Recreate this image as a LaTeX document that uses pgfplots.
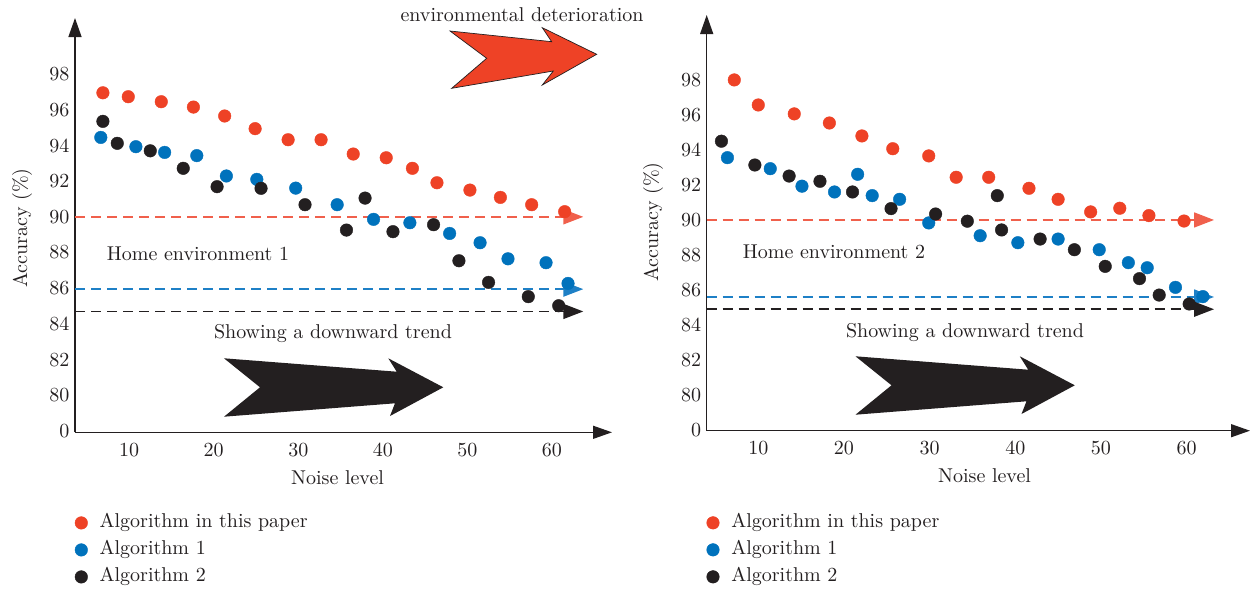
\documentclass[border=0pt]{standalone}
\usepackage{fontspec}
\setmainfont{lmroman10-regular.otf}
\usepackage{pgfplots}
\pgfplotsset{compat=1.18}
\usepackage{pgfplotstable}
\usetikzlibrary{arrows.meta}
\definecolor{cred}{RGB}{238,66,38}
\definecolor{cblue}{RGB}{0,114,188}
\definecolor{cblack}{RGB}{35,31,32}
\definecolor{lred}{RGB}{240,96,76}
\definecolor{lblue}{RGB}{30,128,198}

\pgfplotstableread{
x a
6.9 96.95
9.9 96.73
13.8 96.45
17.6 96.15
21.3 95.65
24.9 94.94
28.8 94.32
32.7 94.32
36.5 93.52
40.4 93.31
43.5 92.72
46.4 91.91
50.3 91.50
53.9 91.09
57.6 90.68
61.5 90.29
}\LRed
\pgfplotstableread{
x a
6.65 94.45
10.8 93.93
14.2 93.61
18.0 93.43
21.5 92.29
25.1 92.10
29.7 91.61
34.6 90.68
38.9 89.86
43.2 89.67
47.9 89.07
51.5 88.55
54.8 87.65
59.3 87.43
61.9 86.27
}\LBlue
\pgfplotstableread{
x a
6.9 95.35
8.6 94.12
12.5 93.70
16.4 92.72
20.4 91.69
25.6 91.60
30.8 90.68
35.7 89.26
37.9 91.05
41.2 89.17
46.0 89.56
49.0 87.54
52.5 86.33
57.2 85.53
60.8 85.02
}\LBlack
\pgfplotstableread{
x a
7.2 98.00
10.0 96.57
14.2 96.06
18.3 95.54
22.1 94.80
25.7 94.07
29.9 93.66
33.1 92.44
36.9 92.44
41.6 91.81
45.0 91.18
48.8 90.46
52.2 90.67
55.6 90.25
59.7 89.94
}\RRed
\pgfplotstableread{
x a
6.4 93.56
11.4 92.93
15.1 91.93
18.9 91.60
21.6 92.61
23.3 91.39
26.5 91.18
29.9 89.83
35.9 89.10
40.3 88.70
45.0 88.91
49.8 88.30
53.2 87.56
55.4 87.27
58.7 86.15
61.9 85.62
}\RBlue
\pgfplotstableread{
x a
5.7 94.50
9.6 93.14
13.6 92.51
17.2 92.21
21.0 91.60
25.5 90.65
30.7 90.34
34.4 89.93
37.9 91.39
38.4 89.43
42.9 88.91
46.9 88.30
50.5 87.35
54.5 86.65
56.8 85.71
60.3 85.20
}\RBlack

\pgfplotsset{
  myaxis/.style={
    scale only axis, clip=false,
    axis lines=left,
    axis line style={line width=1.3bp, cblack, -{Triangle[length=19bp,width=13bp]}},
    major tick length=0pt,
    xtick={10,20,30,40,50,60},
    ytick={0,2,4,6,8,10,12,14,16,18,20},
    yticklabels={0,80,82,84,86,88,90,92,94,96,98},
    /pgf/number format/assume math mode=true,
    tick label style={font=\fontsize{20bp}{23bp}\selectfont, text=cblack},
    xticklabel style={yshift=-7bp},
    yticklabel style={xshift=-2bp},
    legend cell align=left,
    legend image code/.code={\draw[##1] plot coordinates {(0bp,0bp)};},
    legend style={draw=none, fill=none, inner sep=0pt, outer sep=0pt,
      row sep=9bp, column sep=12bp, font=\fontsize{20bp}{23bp}\selectfont,
      nodes={text height=14bp, text depth=4bp, inner sep=0pt, text=cblack}},
  },
  pts/.style={only marks, mark=*, mark size=6.3bp, color=#1, mark options={draw=#1, fill=#1}},
  hl/.style={forget plot, line width=1.5bp, color=#1, dash pattern=on 10bp off 6bp,
    -{Triangle[length=20bp,width=15bp]}},
}

\begin{document}
\begin{tikzpicture}[font=\fontsize{20bp}{23bp}\selectfont]
\path[use as bounding box, fill=white] (0,0) rectangle (1252bp,-590bp);

% ---------------- left panel
\begin{axis}[myaxis,
  at={(75bp,-432.3bp)}, anchor=south west,
  width=537bp, height=414.3bp,
  xmin=3.6, xmax=67.1, ymin=-0.07, ymax=23.14,
  legend style={at={(axis description cs:0.0,-0.197)}, anchor=north west},
]
\addplot[hl=lred] coordinates {(3.6,12) (63.7,12)};
\addplot[hl=lblue] coordinates {(3.6,7.95) (63.7,7.95)};
\addplot[hl=cblack] coordinates {(3.6,6.7) (63.7,6.7)};
\addplot[pts=cred] table[x=x, y expr=\thisrow{a}-78] {\LRed};
\addplot[pts=cblue] table[x=x, y expr=\thisrow{a}-78] {\LBlue};
\addplot[pts=cblack] table[x=x, y expr=\thisrow{a}-78] {\LBlack};
\legend{Algorithm in this paper, Algorithm 1, Algorithm 2}
\end{axis}

% ---------------- right panel
\begin{axis}[myaxis,
  at={(706.7bp,-430.7bp)}, anchor=south west,
  width=543.3bp, height=415.7bp,
  xmin=3.98, xmax=67.4, ymin=-0.04, ymax=23.71,
  legend style={at={(axis description cs:0.0,-0.2)}, anchor=north west},
]
\addplot[hl=lred] coordinates {(3.98,12) (63.2,12)};
\addplot[hl=lblue] coordinates {(3.98,7.6) (63.2,7.6)};
\addplot[hl=cblack] coordinates {(3.98,6.9) (63.2,6.9)};
\addplot[pts=cred] table[x=x, y expr=\thisrow{a}-78] {\RRed};
\addplot[pts=cblue] table[x=x, y expr=\thisrow{a}-78] {\RBlue};
\addplot[pts=cblack] table[x=x, y expr=\thisrow{a}-78] {\RBlack};
\legend{Algorithm in this paper, Algorithm 1, Algorithm 2}
\end{axis}

\begin{scope}[x=1bp, y=-1bp]
% big arrows
\filldraw[fill=cred, draw=cblack, line width=0.7bp, line join=miter]
  (450,31) -- (551.7,41.7) -- (542.3,27.7) -- (596.7,54.3) -- (542.3,85)
  -- (553.3,71) -- (451.7,88.3) -- (486.7,58.3) -- cycle;
\fill[cblack] (224,358.3) -- (396.7,371.7) -- (388.3,358.3) -- (443.3,387.3)
  -- (390,416) -- (395,403.3) -- (224,416.7) -- (260,387.3) -- cycle;
\begin{scope}[shift={(631.5,-2)}]
\fill[cblack] (224,358.3) -- (396.7,371.7) -- (388.3,358.3) -- (443.3,387.3)
  -- (390,416) -- (395,403.3) -- (224,416.7) -- (260,387.3) -- cycle;
\end{scope}
% texts
\begin{scope}[every node/.style={text=cblack, inner sep=0pt}]
\node at (522,15) {environmental deterioration};
\node at (198,254) {Home environment 1};
\node at (834,252) {Home environment 2};
\node at (333,334) {Showing a downward trend};
\node at (965,333) {Showing a downward trend};
\node at (337.5,477.5) {Noise level};
\node at (984.5,475.5) {Noise level};
\node[rotate=90] at (22,228) {Accuracy (\%)};
\node[rotate=90] at (653,222) {Accuracy (\%)};
\end{scope}
\end{scope}
\end{tikzpicture}
\end{document}
